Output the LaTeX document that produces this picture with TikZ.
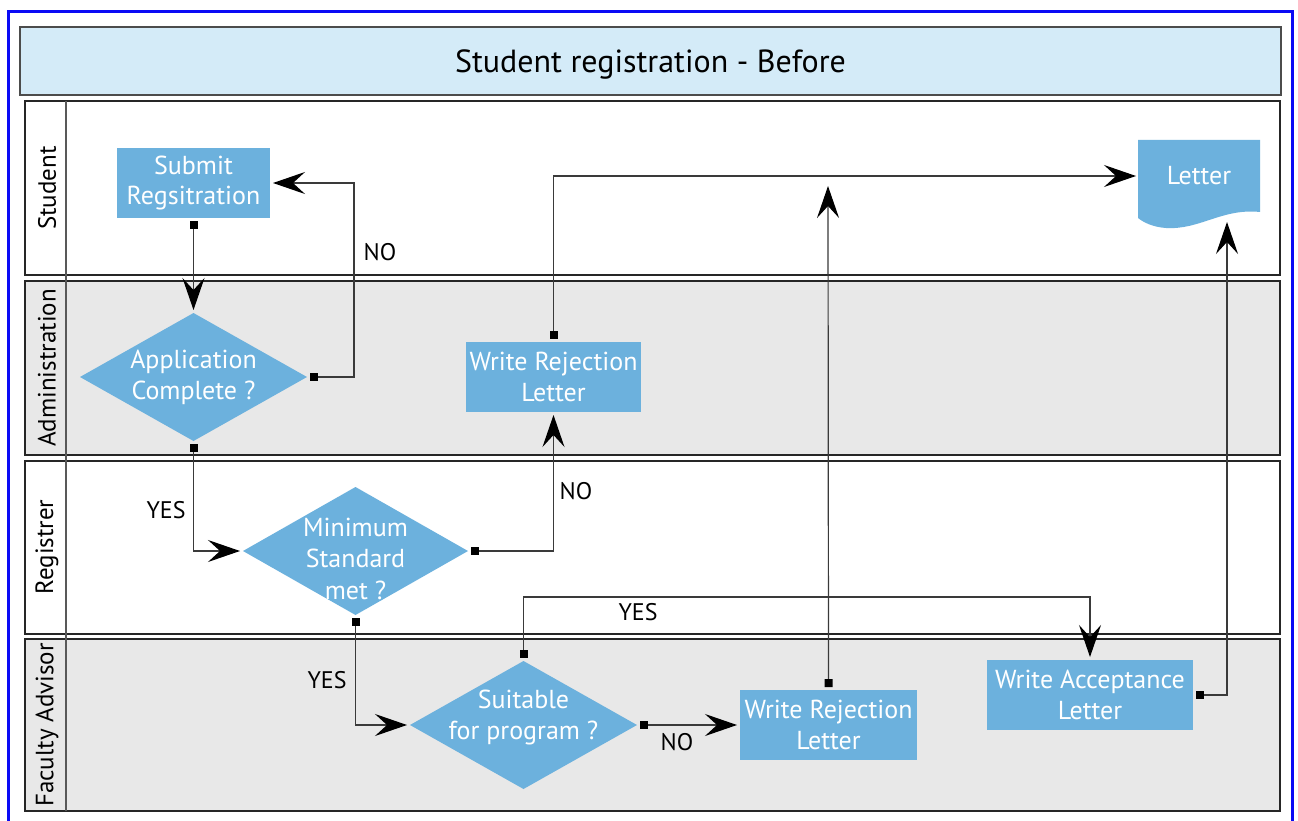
\documentclass[tikz,border=0pt]{standalone}
\usepackage{fontspec}
\setmainfont{PT Sans}
\usetikzlibrary{arrows.meta}
\definecolor{nodeblue}{HTML}{6CB1DD}
\definecolor{titleblue}{HTML}{D4EBF8}
\definecolor{lanegray}{HTML}{E8E8E8}
\definecolor{linegray}{HTML}{3A3A3A}
\definecolor{frameblue}{HTML}{0A0AF5}
\begin{document}
\begin{tikzpicture}[x=1pt,y=-1pt,
  lanebox/.style={draw=black!85, line width=2.2pt},
  proc/.style={fill=nodeblue, text=white, align=center, font=\fontsize{26}{31}\selectfont, minimum height=70pt, inner sep=0pt, outer sep=3pt},
  dec/.style={text=white, align=center, font=\fontsize{26}{31}\selectfont, minimum width=227pt, minimum height=128pt, inner sep=0pt, outer sep=3pt,
    path picture={\fill[nodeblue] (path picture bounding box.west) -- (path picture bounding box.north) -- (path picture bounding box.east) -- (path picture bounding box.south) -- cycle;}},
  conn/.style={draw=linegray, line width=1.2pt, {Square[length=8pt,width=8pt,black]}-{Stealth[length=32pt,width=22pt,inset=12pt,black]}},
  lbl/.style={font=\fontsize{24}{28}\selectfont, text=black},
  lanelbl/.style={rotate=90, font=\fontsize{25}{30}\selectfont, text=black}
]
\useasboundingbox (0,0) rectangle (1298,821);
\clip (0,0) rectangle (1298,821);
\fill[white] (0,0) rectangle (1298,821);
% outer frame
\draw[frameblue, line width=3pt] (8,860) -- (8,12) -- (1292,12) -- (1292,860);
% title
\node[draw=black!70, line width=2pt, fill=titleblue, minimum width=1261pt, minimum height=68pt, inner sep=0pt, text height=22.5pt, text depth=0pt, font=\fontsize{32}{38}\selectfont] (title) at (650.5,61) {Student registration - Before};
% lanes
\draw[lanebox, fill=white] (25,101) rectangle (1280,275);
\draw[lanebox, fill=lanegray] (25,281) rectangle (1280,455);
\draw[lanebox, fill=white] (25,461) rectangle (1280,634);
\draw[lanebox, fill=lanegray] (25,639) rectangle (1280,811);
\draw[black!65, line width=2.5pt] (66,101) -- (66,811);
\node[lanelbl] (l1) at (47,188) {Student};
\node[lanelbl] (l2) at (47,368) {Administration};
\node[lanelbl] (l3) at (47,547) {Registrer};
\node[lanelbl] (l4) at (47,725) {Faculty Advisor};
% letter document shape
\fill[nodeblue] (1138,140) -- (1260,140) -- (1260,212) .. controls (1222,208) and (1200,230) .. (1166,228) .. controls (1152,227) and (1143,222) .. (1138,218) -- cycle;
\node[text=white, font=\fontsize{26}{31}\selectfont, minimum width=122pt, minimum height=72pt, inner sep=0pt, outer sep=2pt] (letter) at (1199,176) {Letter};
% nodes
\node[proc, minimum width=153pt] (sub) at (193.5,183) {Submit\\Regsitration};
\node[dec] (app) at (193.5,377) {Application\\Complete ?};
\node[proc, minimum width=175pt] (rej1) at (553.5,377) {Write Rejection\\Letter};
\node[dec, minimum width=225pt, font=\fontsize{26}{31.5}\selectfont] (min) at (355.5,551) {\rule{0pt}{34pt}Minimum\\Standard\\met ?};
\node[dec] (suit) at (523.5,725) {Suitable\\for program ?\rule[-21pt]{0pt}{0pt}};
\node[proc, minimum width=177pt] (rej2) at (828.5,725) {Write Rejection\\Letter};
\node[proc, minimum width=206pt] (acc) at (1090,695) {Write Acceptance\\Letter};
\coordinate (join) at (828,186);
\coordinate (letterin) at (1227,222);
% connectors
\draw[conn] (sub.south) -- (app.north);
\draw[conn] (app.east) -- ++(44,0) |- (sub.east);
\draw[conn] (app.south) |- (min.west);
\draw[conn] (min.east) -| (rej1.south);
\draw[conn] (rej1.north) |- (letter.west);
\draw[conn] (min.south) |- (suit.west);
\draw[conn] (suit.north) -- ++(0,-61) -| (acc.north);
\draw[conn] (suit.east) -- (rej2.west);
\draw[conn] (rej2.north) -- (join);
\draw[conn] (acc.east) -| (letterin);
% labels
\node[lbl] (no1) at (380,252) {NO};
\node[lbl] (yes1) at (166,510) {YES};
\node[lbl] (no2) at (576,491) {NO};
\node[lbl] (yes2) at (327,680) {YES};
\node[lbl] (yes3) at (638,612) {YES};
\node[lbl] (no3) at (677,742) {NO};
\end{tikzpicture}
\end{document}
